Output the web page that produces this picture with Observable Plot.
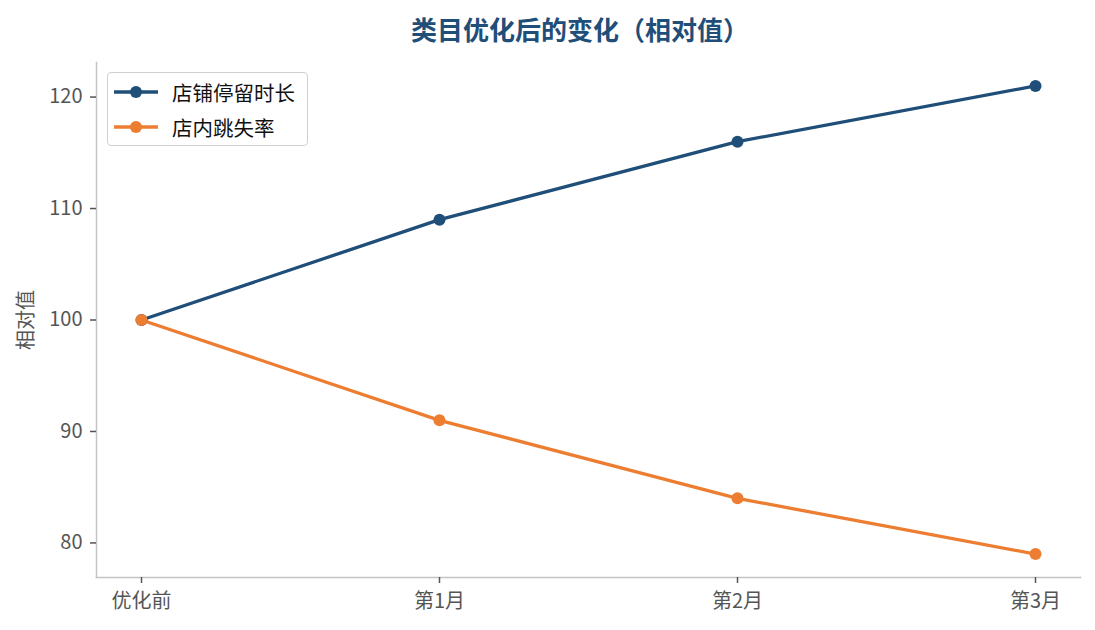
<!DOCTYPE html>
<html>
<head>
<meta charset="utf-8">
<script src="https://cdn.jsdelivr.net/npm/d3@7"></script>
<script src="https://cdn.jsdelivr.net/npm/@observablehq/plot@0.6"></script>
<style>
  body { margin: 0; background: #fff; font-family: "Noto Sans CJK SC", "Noto Sans", sans-serif; }
  #wrap { position: relative; width: 1095px; height: 630px; }
  #title { position: absolute; left: 80px; width: 1000px; top: 0; height: 50px; text-align: center;
    font-size: 26px; line-height: 26px; padding-top: 16px; box-sizing: border-box; font-weight: bold; color: #1f4e79; }
  #chart { position: absolute; left: 0; top: 50px; }
  #legend { position: absolute; left: 107px; top: 72px; width: 201px; height: 74px; box-sizing: border-box;
    border: 1.5px solid #d0d0d0; border-radius: 4px; background: #fff; font-size: 20.5px; color: #111; }
  .item { position: absolute; left: 5px; height: 30px; display: flex; align-items: center; }
  .item span { margin-left: 13px; }
</style>
</head>
<body>
<div id="wrap">
  <div id="title">类目优化后的变化（相对值）</div>
  <div id="chart"></div>
  <div id="legend"></div>
</div>
<script>
const categories = ["优化前", "第1月", "第2月", "第3月"];
const seriesNames = ["店铺停留时长", "店内跳失率"];
const dwellValues = [100, 109, 116, 121];
const bounceValues = [100, 91, 84, 79];
const colors = ["#1f4e79", "#ed7d31"];
const yTicks = [80, 90, 100, 110, 120];

const data = [
  ...categories.map((c, i) => ({cat: c, value: dwellValues[i], series: seriesNames[0]})),
  ...categories.map((c, i) => ({cat: c, value: bounceValues[i], series: seriesNames[1]}))
];

const spine = "#c4c4c4";
const chart = Plot.plot({
  width: 1095,
  height: 580,
  marginLeft: 96,
  marginRight: 15,
  marginTop: 12,
  marginBottom: 53,
  style: {fontFamily: '"Noto Sans CJK SC", "Noto Sans", sans-serif', fontSize: "20px", color: "#555", background: "#fff"},
  x: {type: "point", domain: categories, padding: 0.15},
  y: {domain: [76.9, 123.1]},
  color: {domain: seriesNames, range: colors},
  marks: [
    Plot.frame({anchor: "left", stroke: spine, strokeWidth: 1.5, strokeOpacity: 1}),
    Plot.frame({anchor: "bottom", stroke: spine, strokeWidth: 1.5, strokeOpacity: 1}),
    Plot.axisY({ticks: yTicks, tickSize: 6, tickPadding: 8, stroke: "#555", fill: "#555", strokeWidth: 1.5, strokeOpacity: 1,
      label: "相对值", labelAnchor: "center", labelArrow: "none", labelOffset: 78, fontSize: 20}),
    Plot.axisX({tickSize: 6, tickPadding: 10, stroke: "#555", fill: "#555", strokeWidth: 1.5, strokeOpacity: 1, label: null, fontSize: 20}),
    Plot.line(data, {x: "cat", y: "value", stroke: "series", strokeWidth: 3.3}),
    Plot.dot(data, {x: "cat", y: "value", fill: "series", r: 6})
  ]
});
document.getElementById("chart").appendChild(chart);

const legend = document.getElementById("legend");
seriesNames.forEach((name, i) => {
  const item = document.createElement("div");
  item.className = "item";
  item.style.top = (4 + i * 35) + "px";
  item.innerHTML = `<svg width="46" height="14"><line x1="1" x2="45" y1="7" y2="7" stroke="${colors[i]}" stroke-width="3.3"/><circle cx="23" cy="7" r="6" fill="${colors[i]}"/></svg><span>${name}</span>`;
  legend.appendChild(item);
});
</script>
</body>
</html>
